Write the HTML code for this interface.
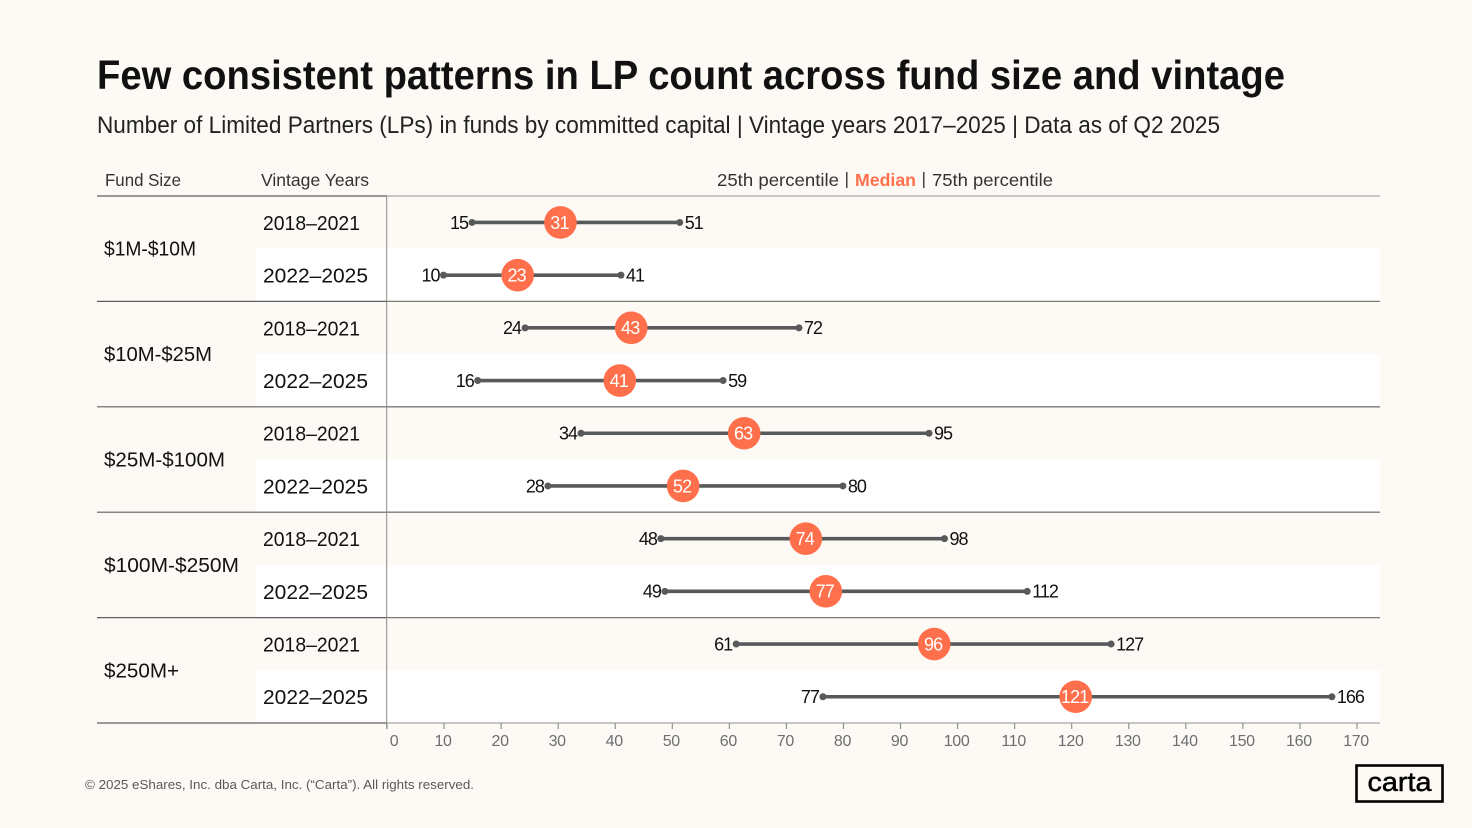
<!DOCTYPE html>
<html lang="en">
<head>
<meta charset="utf-8">
<title>Few consistent patterns in LP count across fund size and vintage</title>
<style>
html,body{margin:0;padding:0;width:1472px;height:828px;overflow:hidden;background:#FDFAF5;}
svg{display:block;font-family:"Liberation Sans",sans-serif;}
</style>
</head>
<body>
<svg id="chart" xmlns="http://www.w3.org/2000/svg" width="1472" height="828" viewBox="0 0 1472 828">
  <rect x="0" y="0" width="1472" height="828" fill="#FDFAF5"/>
  <text x="97" y="89" font-size="41" font-weight="700" fill="#111" textLength="1188" lengthAdjust="spacingAndGlyphs">Few consistent patterns in LP count across fund size and vintage</text>
  <text x="97" y="133" font-size="24" fill="#222" textLength="1123" lengthAdjust="spacingAndGlyphs">Number of Limited Partners (LPs) in funds by committed capital | Vintage years 2017–2025 | Data as of Q2 2025</text>
  <text x="105" y="186" font-size="17.5" fill="#333" textLength="76" lengthAdjust="spacingAndGlyphs">Fund Size</text>
  <text x="261" y="186" font-size="17.5" fill="#333" textLength="108" lengthAdjust="spacingAndGlyphs">Vintage Years</text>
  <text x="717" y="186" font-size="17.5" fill="#333" textLength="122" lengthAdjust="spacingAndGlyphs">25th percentile</text>
  <rect x="846" y="172" width="1.5" height="16" fill="#444"/>
  <text x="855" y="186" font-size="17.5" font-weight="700" fill="#FF6F4B" textLength="61" lengthAdjust="spacingAndGlyphs">Median</text>
  <rect x="923" y="172" width="1.5" height="16" fill="#444"/>
  <text x="932" y="186" font-size="17.5" fill="#333" textLength="121" lengthAdjust="spacingAndGlyphs">75th percentile</text>
  <g id="rows"></g>
  <g id="rules"></g>
  <g id="axis"></g>
  <g id="marks"></g>
  <text x="85" y="789" font-size="13" fill="#58595B" textLength="389" lengthAdjust="spacingAndGlyphs">© 2025 eShares, Inc. dba Carta, Inc. (“Carta”). All rights reserved.</text>
  <g>
    <rect x="1356.5" y="765.5" width="86" height="36" fill="none" stroke="#000" stroke-width="2.6"/>
    <text x="1399.5" y="791" font-size="27" fill="#000" stroke="#000" stroke-width="0.5" text-anchor="middle" textLength="64" lengthAdjust="spacingAndGlyphs">carta</text>
  </g>
</svg>
<script>
const fundSizes = ["$1M-$10M", "$10M-$25M", "$25M-$100M", "$100M-$250M", "$250M+"];
const fundLabelWidths = [92, 108, 121, 135, 75];
const vintages = ["2018–2021", "2022–2025"];
const p25 = [14.9, 9.9, 24.2, 15.9, 34, 28.2, 48, 48.7, 61.2, 76.4];
const median = [30.4, 22.9, 42.8, 40.8, 62.6, 51.9, 73.4, 76.9, 95.9, 120.7];
const p75 = [51.3, 41, 72.2, 58.9, 95, 79.9, 97.7, 112.2, 126.9, 165.6];
const p25Labels = ["15", "10", "24", "16", "34", "28", "48", "49", "61", "77"];
const medianLabels = ["31", "23", "43", "41", "63", "52", "74", "77", "96", "121"];
const p75Labels = ["51", "41", "72", "59", "95", "80", "98", "112", "127", "166"];
const xTicks = [0, 10, 20, 30, 40, 50, 60, 70, 80, 90, 100, 110, 120, 130, 140, 150, 160, 170];

const NS = "http://www.w3.org/2000/svg";
const plotLeft = 387, plotRight = 1380, tableLeft = 97, rowLeft = 256;
const tableTop = 196, rowHeight = 52.7;
const xScale = v => plotLeft + v * (1357 - 387) / 170;
const rowTop = i => tableTop + i * rowHeight;
const rowMid = i => rowTop(i) + rowHeight / 2 + 0.1;

function make(parent, tag, attrs, text) {
  const el = document.createElementNS(NS, tag);
  for (const k in attrs) el.setAttribute(k, attrs[k]);
  if (text !== undefined) el.textContent = text;
  parent.appendChild(el);
  return el;
}
const rows = document.getElementById("rows");
const rules = document.getElementById("rules");
const axis = document.getElementById("axis");
const marks = document.getElementById("marks");

median.forEach((_, i) => {
  if (i % 2 === 1) {
    const band = make(rows, "rect", {x: rowLeft, y: rowTop(i), width: plotRight - rowLeft, height: rowHeight, fill: "#FFFFFF"});
    
    
  }
  const label = make(rows, "text", {x: 263, y: rowMid(i) + 7.4, "font-size": 20.5, fill: "#111", textLength: i % 2 ? 105 : 97, lengthAdjust: "spacingAndGlyphs"}, vintages[i % 2]);
  
  
});

fundSizes.forEach((name, g) => {
  const label = make(rows, "text", {x: 104, y: rowTop(g * 2 + 1) + 7, "font-size": 20.5, fill: "#111", textLength: fundLabelWidths[g], lengthAdjust: "spacingAndGlyphs"}, name);
  
  
});

for (let g = 0; g <= fundSizes.length; g++) {
  const y = rowTop(g * 2);
  const last = g === fundSizes.length, first = g === 0;
  const left = make(rules, "line", {x1: tableLeft, x2: plotLeft, y1: y, y2: y, stroke: "#5f5f5f", "stroke-width": 1.2});
  
  
  const right = make(rules, "line", {x1: plotLeft, x2: plotRight, y1: y, y2: y, stroke: (first || last) ? "#a8a8a4" : "#7b7b78", "stroke-width": 1.3});
  
  
}
const vline = make(rules, "line", {x1: plotLeft - 0.3, x2: plotLeft - 0.3, y1: tableTop, y2: rowTop(10) + 6, stroke: "#8a8a88", "stroke-width": 1});



xTicks.forEach(v => {
  const x = xScale(v);
  const tick = make(axis, "line", {x1: x, x2: x, y1: rowTop(10), y2: rowTop(10) + 6, stroke: "#8a8a88", "stroke-width": 1.1});
  
  
  const lab = make(axis, "text", {x: v === 0 ? x + 7 : x - 1, y: 746, "font-size": 16, fill: "#6D6E71", "text-anchor": "middle", "letter-spacing": "-0.3"}, String(v));
  
  
});

median.forEach((m, i) => {
  const y = rowMid(i), x0 = xScale(p25[i]), x1 = xScale(p75[i]), xm = xScale(m);
  const bar = make(marks, "line", {x1: x0, x2: x1, y1: y, y2: y, stroke: "#58595B", "stroke-width": 3.6});
  
  
  const d0 = make(marks, "circle", {cx: x0, cy: y, r: 3.5, fill: "#58595B"});
  
  
  const d1 = make(marks, "circle", {cx: x1, cy: y, r: 3.5, fill: "#58595B"});
  
  
  const c = make(marks, "circle", {cx: xm, cy: y, r: 16.3, fill: "#FF6F4B"});
  
  
  const t0 = make(marks, "text", {x: x0 - 4, y: y + 6.3, "font-size": 18, fill: "#111", "text-anchor": "end", "letter-spacing": "-1"}, p25Labels[i]);
  
  
  const t1 = make(marks, "text", {x: x1 + 5, y: y + 6.3, "font-size": 18, fill: "#111", "letter-spacing": "-1"}, p75Labels[i]);
  
  
  const tm = make(marks, "text", {x: xm - 1, y: y + 6.3, "font-size": 18, fill: "#FFFFFF", "text-anchor": "middle", "letter-spacing": "-0.8"}, medianLabels[i]);
  
  
});
</script>
</body>
</html>
